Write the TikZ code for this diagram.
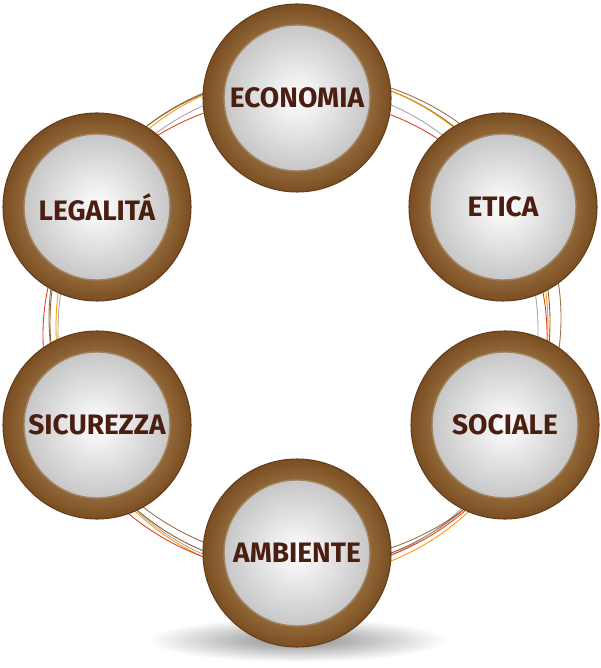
\documentclass[tikz,border=0pt]{standalone}
\usepackage{fontspec}
\setmainfont{Fira Sans}
\usetikzlibrary{shadings}
\definecolor{ringbrown}{HTML}{8A5A2B}
\definecolor{ringlight}{HTML}{E2BE85}
\definecolor{ringdark}{HTML}{7A4E22}
\definecolor{txtbrown}{HTML}{4A1E10}
\tikzset{ring/.style={circle,minimum size=188*0.02cm,inner sep=0pt,
    outer color=ringdark,inner color=ringlight,draw=ringdark!80!black,line width=0.6pt}}
\tikzset{disk/.style={circle,minimum size=146*0.02cm,inner sep=0pt,
    outer color=black!22,inner color=white,draw=ringdark!70,line width=0.8pt,
    font=\bfseries\fontsize{16}{17}\selectfont,text=txtbrown}}
\tikzset{thread/.style={line width=0.5pt}}
\begin{document}
\begin{tikzpicture}[x=0.02cm,y=-0.02cm]
\useasboundingbox (0,0) rectangle (600,668);
% shadow
\shade[inner color=black!45,outer color=white] (297,640) ellipse (150 and 22);
% threads
\draw[thread,ringbrown] (300,322) ellipse (250 and 248);
\draw[thread,orange!80!yellow] (302,326) ellipse (246 and 252);
\draw[thread,black!35] (298,330) ellipse (240 and 244);
\draw[thread,ringdark!80] (305,318) ellipse (256 and 244);
\draw[thread,red!50!brown] (295,335) ellipse (252 and 238);
% circles
\foreach \name/\x/\y/\lbl in {eco/297/98/ECONOMIA, eti/503/207/ETICA, leg/97/207/LEGALITÁ,
    sic/97/425/SICUREZZA, soc/505/425/SOCIALE, amb/297/553/AMBIENTE}{
  \node[ring] (\name) at (\x,\y) {};
  \node[disk] (\name l) at (\x,\y) {\lbl};
}
\end{tikzpicture}
\end{document}
